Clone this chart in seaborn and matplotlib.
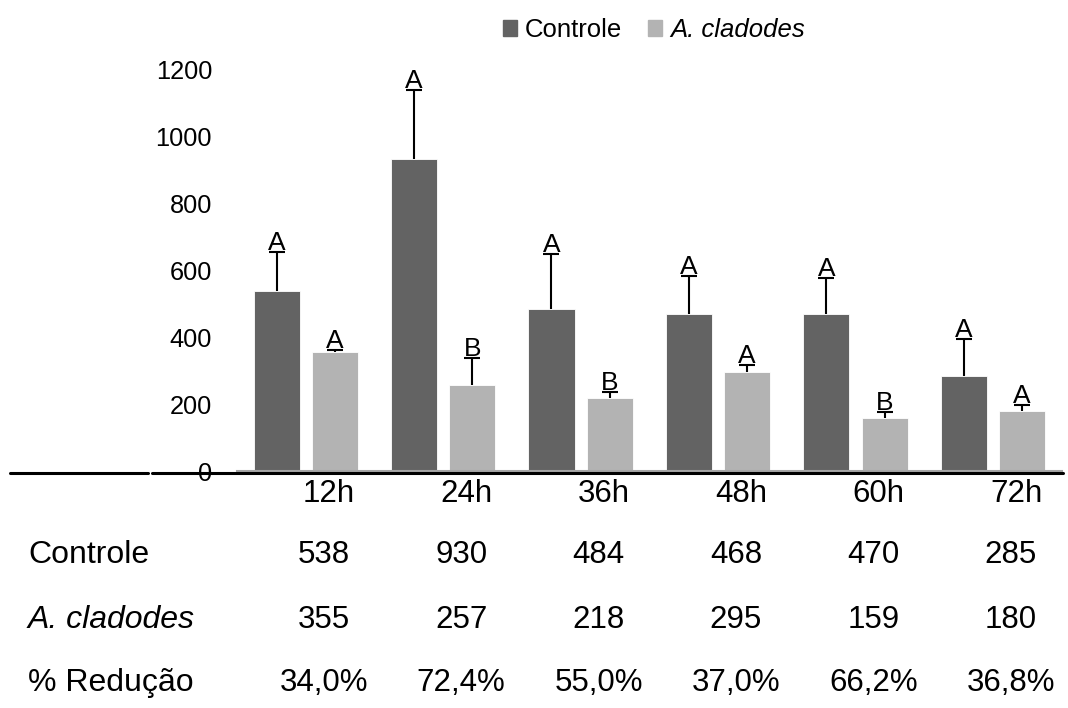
import seaborn as sns
import matplotlib.pyplot as plt
import pandas as pd
import numpy as np
import matplotlib
from matplotlib.lines import Line2D
from matplotlib.transforms import blended_transform_factory
matplotlib.use('Agg')

tempos = ['12h', '24h', '36h', '48h', '60h', '72h']
controle = [538, 930, 484, 468, 470, 285]
cladodes = [355, 257, 218, 295, 159, 180]
erro_controle = [115, 208, 163, 113, 105, 110]
erro_cladodes = [5, 81, 19, 22, 18, 18]
letras_controle = ['A', 'A', 'A', 'A', 'A', 'A']
letras_cladodes = ['A', 'B', 'B', 'A', 'B', 'A']
reducao = ['34,0%', '72,4%', '55,0%', '37,0%', '66,2%', '36,8%']

df = pd.DataFrame({
    'Tempo': tempos * 2,
    'Valor': controle + cladodes,
    'Grupo': ['Controle'] * 6 + ['A. cladodes'] * 6,
})

sns.set_style('white')
plt.rcParams['font.family'] = ['Liberation Sans', 'DejaVu Sans']
plt.rcParams['text.color'] = 'black'
plt.rcParams['ytick.color'] = 'black'
plt.rcParams['xtick.color'] = 'black'

fig = plt.figure(figsize=(10.68, 7.08), dpi=100)
ax = fig.add_axes([0.222, 0.3347, 0.772, 0.5678])

cores = {'Controle': '#636363', 'A. cladodes': '#b3b3b3'}
sns.barplot(data=df, x='Tempo', y='Valor', hue='Grupo', palette=cores,
            width=0.85, gap=0.21, errorbar=None, ax=ax, legend=False,
            edgecolor='white', linewidth=0.6)

# barras de erro (so para cima) e letras
for cont, err, letras in zip(ax.containers, [erro_controle, erro_cladodes],
                             [letras_controle, letras_cladodes]):
    xs = np.array([p.get_x() + p.get_width() / 2 for p in cont.patches])
    ys = np.array([p.get_height() for p in cont.patches])
    topo = ys + np.array(err)
    ax.vlines(xs, ys, topo, color='black', lw=1.5, zorder=3)
    ax.plot(xs, topo, ls='none', marker='_', markersize=12, mew=1.5, color='black', zorder=3)
    for x, t, l in zip(xs, topo, letras):
        ax.annotate(l, (x, t), xytext=(0, 1.5), textcoords='offset points',
                    ha='center', va='baseline', fontsize=19)

ax.set_ylim(0, 1200)
ax.set_xlim(-0.5, 5.5)
ax.set_yticks(range(0, 1201, 200))
ax.tick_params(axis='y', length=0, pad=18, labelsize=18.3, labelcolor='black')
ax.set_xticks([])
ax.set_xlabel('')
ax.set_ylabel('')
for s in ['top', 'right', 'left']:
    ax.spines[s].set_visible(False)
ax.spines['bottom'].set_color('#a6a6a6')
ax.spines['bottom'].set_linewidth(1.5)

# linha preta da tabela
yl = 1 - 473 / 708
fig.add_artist(Line2D([0.0094, 0.1390], [yl, yl], color='black', lw=2.2, transform=fig.transFigure))
fig.add_artist(Line2D([0.1420, 0.9953], [yl, yl], color='black', lw=2.2, transform=fig.transFigure))

# tabela de dados
tr = blended_transform_factory(ax.transData, fig.transFigure)
linhas_y = [1 - 555 / 708, 1 - 620 / 708, 1 - 683 / 708]
fs = 22.5
for i, t in enumerate(tempos):
    ax.text(i + 0.17, 1 - 494 / 708, t, transform=tr, ha='center', va='center', fontsize=22.5)
    ax.text(i + 0.13, linhas_y[0], str(controle[i]), transform=tr, ha='center', va='center', fontsize=fs)
    ax.text(i + 0.13, linhas_y[1], str(cladodes[i]), transform=tr, ha='center', va='center', fontsize=fs)
    ax.text(i + 0.13, linhas_y[2], reducao[i], transform=tr, ha='center', va='center', fontsize=fs)

fig.text(28 / 1068, linhas_y[0], 'Controle', ha='left', va='center', fontsize=23)
fig.text(28 / 1068, linhas_y[1], 'A. cladodes', ha='left', va='center', fontsize=23, style='italic')
fig.text(28 / 1068, linhas_y[2], '% Redução', ha='left', va='center', fontsize=23)

# legenda
handles = [plt.Rectangle((0, 0), 1, 1, color=cores['Controle']),
           plt.Rectangle((0, 0), 1, 1, color=cores['A. cladodes'])]
leg = fig.legend(handles, ['Controle', 'A. cladodes'], loc='center',
                 bbox_to_anchor=(654 / 1068, 1 - 30 / 708), ncol=2, frameon=False,
                 fontsize=18.5, handlelength=0.55, handleheight=0.55,
                 handletextpad=0.3, columnspacing=1.0)
leg.get_texts()[1].set_style('italic')

fig.savefig('out.png', dpi=100)
